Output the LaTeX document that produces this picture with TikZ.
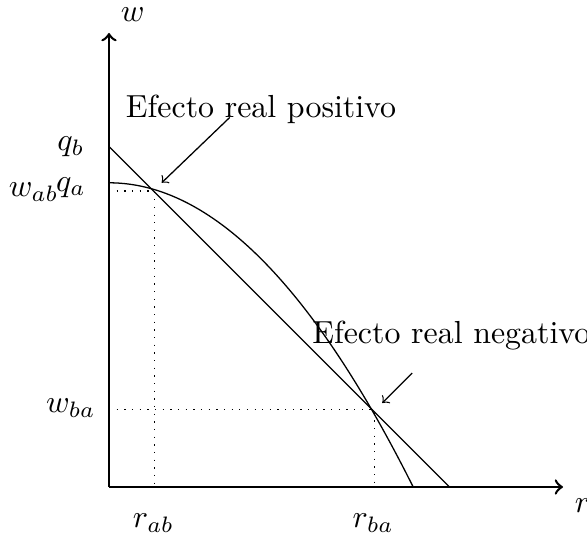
\documentclass[tikz,border=0pt]{standalone}
\begin{document}
\begin{tikzpicture}[x=1cm,y=1cm]
\useasboundingbox (-1.2004,-0.5507) rectangle (5.2642,5.3633);
\draw[thick,->] (0,0)--(5,0) node[below right] (r) {$r$};
\draw[thick,->] (0,0)--(0,5) node[above right] (w) {$w$};

\draw (0,3.75)--(3.75,0);
\draw (0,3.35) .. controls (1.117,3.35) and (2.233,2.233) .. (3.35,0);

\coordinate (wab) at (0,3.26);
\coordinate (ab) at (0.5,3.26);
\coordinate (rab) at (0.5,0);
\coordinate (wba) at (0,0.85);
\coordinate (ba) at (2.92,0.85);
\coordinate (rba) at (2.92,0);
\draw[dotted] (wab)--(ab)--(rab);
\draw[dotted] (wba)--(ba)--(rba);

\node (qb) at (-0.42,3.75) {$q_b$};
\node (qa) at (-0.42,3.30) {$q_a$};
\node (wablab) at (-0.83,3.25) {$w_{ab}$};
\node (wbalab) at (-0.42,0.87) {$w_{ba}$};
\node (rablab) at (0.49,-0.4) {$r_{ab}$};
\node (rbalab) at (2.91,-0.4) {$r_{ba}$};

\node (pos) at (1.675,4.16) {Efecto real positivo};
\node (neg) at (3.77,1.67) {Efecto real negativo};
\coordinate (posfrom) at (1.33,4.07);
\coordinate (posto) at (0.58,3.35);
\coordinate (negfrom) at (3.34,1.255);
\coordinate (negto) at (3.01,0.925);
\draw[->] (posfrom)--(posto);
\draw[->] (negfrom)--(negto);
\end{tikzpicture}
\end{document}
